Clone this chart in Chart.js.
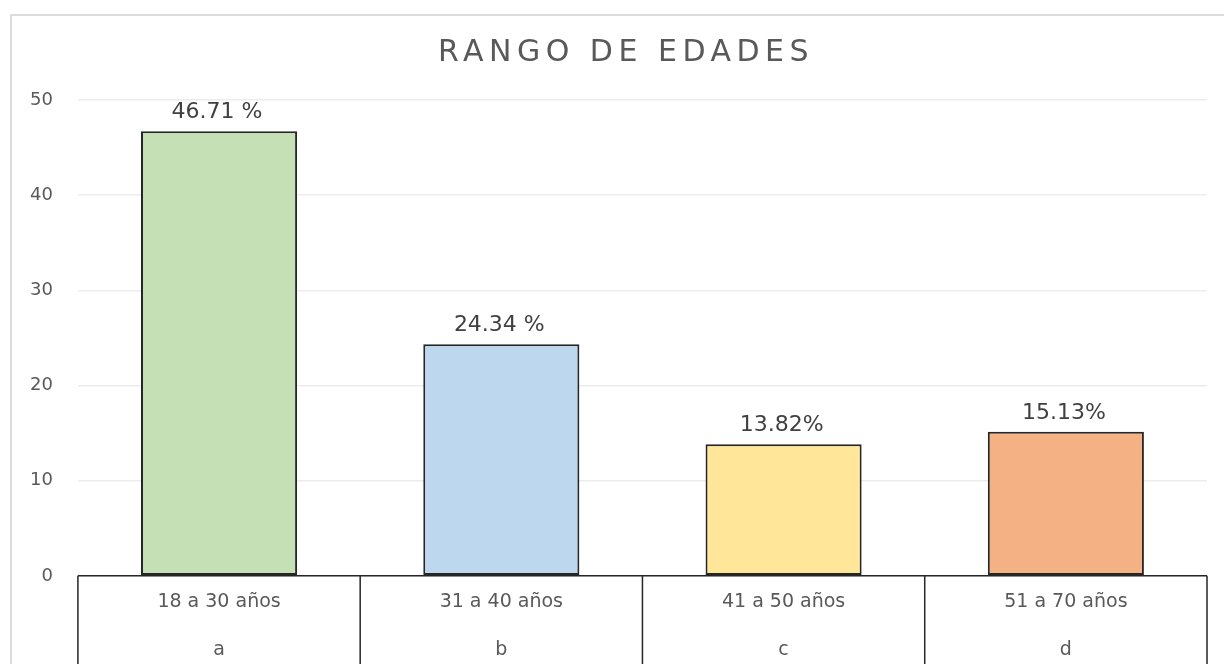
<!DOCTYPE html>
<html>
<head>
<meta charset="utf-8">
<script src="https://cdn.jsdelivr.net/npm/chart.js@4.4.0/dist/chart.umd.min.js"></script>
<style>
    body { margin: 0; background: #fff; overflow: hidden; }
    #frame {
        position: absolute; left: 10px; top: 14px;
        width: 1240px; height: 700px;
        border: 2px solid #dcdcdc;
    }
    #wrap { position: absolute; left: 0; top: 0; width: 1224px; height: 664px; }
</style>
</head>
<body>
<div id="frame"></div>
<div id="wrap"><canvas id="edadesChart"></canvas></div>
<script>
// Chart data
const titulo = 'RANGO DE EDADES';
const rangos = ['18 a 30 años', '31 a 40 años', '41 a 50 años', '51 a 70 años'];
const letras = ['a', 'b', 'c', 'd'];
const porcentajes = [46.71, 24.34, 13.82, 15.13];
const etiquetas = ['46.71 %', '24.34 %', '13.82%', '15.13%'];
const colores = ['#c5e0b4', '#bdd7ee', '#ffe699', '#f4b183'];

// Value labels above each bar
const valueLabels = {
    id: 'valueLabels',
    afterDatasetsDraw(chart) {
        const ctx = chart.ctx;
        const meta = chart.getDatasetMeta(0);
        ctx.save();
        ctx.font = '22px "DejaVu Sans"';
        ctx.fillStyle = '#404040';
        ctx.textAlign = 'center';
        ctx.textBaseline = 'alphabetic';
        meta.data.forEach((bar, i) => {
            ctx.fillText(etiquetas[i], bar.x - 2, bar.y - 13);
        });
        ctx.restore();
    }
};

// Spaced-out title (Chart.js title has no letter spacing)
const spacedTitle = {
    id: 'spacedTitle',
    afterDraw(chart) {
        const ctx = chart.ctx;
        ctx.save();
        ctx.font = '30px "DejaVu Sans"';
        ctx.letterSpacing = '5.5px';
        ctx.fillStyle = '#595959';
        ctx.textAlign = 'center';
        ctx.textBaseline = 'middle';
        ctx.fillText(titulo, chart.width / 2 + 14, 53);
        ctx.restore();
    }
};

// Table-style box under the x axis
const axisTable = {
    id: 'axisTable',
    afterDraw(chart) {
        const ctx = chart.ctx;
        const x = chart.scales.x;
        const area = chart.chartArea;
        const half = (x.getPixelForValue(1) - x.getPixelForValue(0)) / 2;
        ctx.save();
        ctx.strokeStyle = '#262626';
        ctx.lineWidth = 1.5;
        ctx.beginPath();
        ctx.moveTo(x.getPixelForValue(0) - half, area.bottom);
        ctx.lineTo(x.getPixelForValue(rangos.length - 1) + half, area.bottom);
        for (let i = 0; i <= rangos.length; i++) {
            const px = x.getPixelForValue(i) - half;
            ctx.moveTo(px, area.bottom);
            ctx.lineTo(px, chart.height + 5);
        }
        ctx.stroke();
        ctx.restore();
    }
};

const ctx = document.getElementById('edadesChart').getContext('2d');

const edadesChart = new Chart(ctx, {
    type: 'bar',
    data: {
        labels: rangos.map((r, i) => [r, letras[i]]),
        datasets: [{
            data: porcentajes,
            backgroundColor: colores,
            borderColor: '#262626',
            borderWidth: 2,
            borderSkipped: false,
            barPercentage: 0.553,
            categoryPercentage: 1.0
        }]
    },
    options: {
        responsive: true,
        maintainAspectRatio: false,
        animation: false,
        layout: {
            padding: { top: 100, left: 5, right: 17, bottom: -4 }
        },
        plugins: {
            legend: { display: false },
            tooltip: { enabled: false },
            title: { display: false }
        },
        scales: {
            x: {
                grid: { display: false },
                border: { display: false },
                ticks: {
                    color: '#595959',
                    font: { family: '"DejaVu Sans"', size: 19, lineHeight: 2.53 },
                    padding: -6,
                    maxRotation: 0
                }
            },
            y: {
                min: 0,
                max: 50,
                ticks: {
                    stepSize: 10,
                    color: '#595959',
                    font: { family: '"DejaVu Sans"', size: 18 },
                    padding: 25
                },
                grid: {
                    color: '#ececec',
                    lineWidth: 1.5,
                    drawTicks: false
                },
                border: { display: false }
            }
        }
    },
    plugins: [valueLabels, axisTable, spacedTitle]
});
</script>
</body>
</html>
